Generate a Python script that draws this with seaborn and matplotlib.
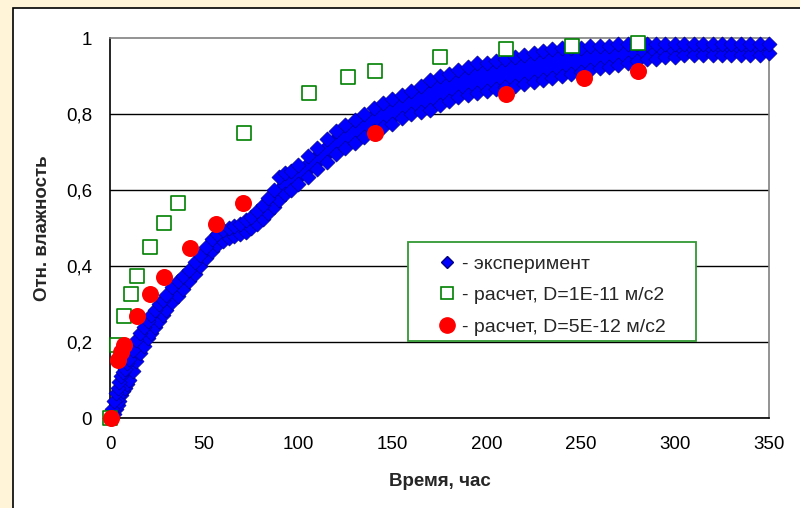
import matplotlib
matplotlib.use("Agg")
import matplotlib.pyplot as plt
import seaborn as sns
import pandas as pd
from matplotlib.lines import Line2D
from matplotlib.patches import Rectangle

# эксперимент: нижняя и верхняя граница полосы точек
exp_time = [0, 1, 2, 3, 4, 5, 6, 7, 8, 9, 10, 12, 14, 16, 18, 20, 22, 24, 26, 28,
            30, 33, 36, 39, 42, 45, 48, 51, 54, 57, 60, 63, 66, 69, 72, 75, 78, 81,
            84, 87, 90, 93, 96, 100, 105, 110, 115, 120, 125, 130, 135, 140, 145,
            150, 155, 160, 165, 170, 175, 180, 185, 190, 195, 200, 205, 210, 215,
            220, 225, 230, 235, 240, 245, 250, 255, 260, 265, 270, 275, 280, 285,
            290, 295, 300, 305, 310, 315, 320, 325, 330, 335, 340, 345, 350]
exp_low = [0.0, 0.0, 0.01, 0.025, 0.035, 0.045, 0.06, 0.07, 0.08, 0.09, 0.10, 0.125,
           0.15, 0.17, 0.19, 0.21, 0.225, 0.24, 0.255, 0.27, 0.285, 0.305, 0.32, 0.34,
           0.36, 0.38, 0.40, 0.42, 0.44, 0.455, 0.465, 0.475, 0.48, 0.485, 0.49, 0.50,
           0.51, 0.525, 0.54, 0.555, 0.575, 0.59, 0.60, 0.615, 0.635, 0.655, 0.675,
           0.695, 0.71, 0.725, 0.74, 0.755, 0.765, 0.775, 0.79, 0.80, 0.805, 0.81,
           0.825, 0.835, 0.845, 0.85, 0.855, 0.86, 0.865, 0.87, 0.875, 0.88, 0.885,
           0.89, 0.895, 0.90, 0.905, 0.91, 0.915, 0.92, 0.925, 0.93, 0.935, 0.94,
           0.945, 0.945, 0.95, 0.95, 0.955, 0.955, 0.955, 0.955, 0.955, 0.955, 0.955,
           0.955, 0.955, 0.96]
exp_high = [0.0, 0.025, 0.045, 0.065, 0.08, 0.095, 0.11, 0.12, 0.13, 0.145, 0.155,
            0.18, 0.205, 0.225, 0.24, 0.255, 0.27, 0.285, 0.30, 0.31, 0.325, 0.345,
            0.36, 0.375, 0.39, 0.41, 0.43, 0.45, 0.47, 0.485, 0.495, 0.50, 0.505, 0.51,
            0.52, 0.53, 0.545, 0.56, 0.58, 0.60, 0.635, 0.645, 0.65, 0.665, 0.69, 0.71,
            0.735, 0.755, 0.77, 0.785, 0.80, 0.815, 0.83, 0.84, 0.85, 0.86, 0.875,
            0.89, 0.90, 0.905, 0.915, 0.925, 0.935, 0.935, 0.94, 0.945, 0.95, 0.955,
            0.96, 0.965, 0.97, 0.975, 0.975, 0.975, 0.98, 0.98, 0.98, 0.985, 0.985,
            0.985, 0.985, 0.985, 0.985, 0.985, 0.985, 0.985, 0.985, 0.985, 0.985,
            0.985, 0.985, 0.985, 0.985, 0.985]

# расчет, D=1E-11 м/с2
calc1_time = [0, 3.5, 7.5, 11, 14.5, 21.5, 28.5, 36, 71, 105.5, 126.5, 140.5,
              175.5, 210.5, 245.5, 280.5]
calc1_val = [0.0, 0.192, 0.268, 0.326, 0.374, 0.449, 0.513, 0.566, 0.75, 0.855,
             0.897, 0.913, 0.951, 0.970, 0.979, 0.987]

# расчет, D=5E-12 м/с2
calc2_time = [0.5, 4.5, 6, 7.5, 14.5, 21.5, 28.5, 42.5, 56.5, 70.5, 140.5, 210.5,
              252, 280.5]
calc2_val = [0.0, 0.152, 0.175, 0.192, 0.269, 0.326, 0.372, 0.448, 0.512, 0.565,
             0.751, 0.854, 0.894, 0.914]

x_ticks = [0, 50, 100, 150, 200, 250, 300, 350]
y_ticks = [0, 0.2, 0.4, 0.6, 0.8, 1.0]
y_tick_labels = ['0', '0,2', '0,4', '0,6', '0,8', '1']

legend_labels = ['- эксперимент', '- расчет, D=1E-11 м/с2', '- расчет, D=5E-12 м/с2']

sns.set_style("white")
plt.rcParams['font.family'] = ['Liberation Sans', 'DejaVu Sans']

fig = plt.figure(figsize=(8, 5.08), dpi=100, facecolor='#FFF4D8')
panel = Rectangle((13 / 800, -0.02), 1.0, 500 / 508 + 0.02, transform=fig.transFigure,
                  facecolor='white', edgecolor='black', lw=1.2, zorder=-5)
fig.patches.append(panel)

ax = fig.add_axes([0.1375, 0.177, 0.82375, 0.748])
ax.set_zorder(1)
ax.set_facecolor('white')

# полоса экспериментальных точек
ax.fill_between(exp_time, exp_low, exp_high, color='#0000FF', lw=0, zorder=2)
band = pd.DataFrame({'t': exp_time + exp_time, 'y': exp_low + exp_high})
sns.scatterplot(data=band, x='t', y='y', marker='D', s=60, color='#0000FF',
                edgecolor='#000080', linewidth=0.4, ax=ax, zorder=3, clip_on=False)

sns.scatterplot(x=calc1_time, y=calc1_val, marker='s', s=90, color='white',
                edgecolor='#008000', linewidth=1.2, ax=ax, zorder=4, clip_on=False)
sns.scatterplot(x=calc2_time, y=calc2_val, marker='o', s=150, color='#FF0000',
                linewidth=0, ax=ax, zorder=5, clip_on=False)

ax.set_xlim(0, 350)
ax.set_ylim(0, 1)
ax.set_xticks(x_ticks)
ax.set_yticks(y_ticks)
ax.set_yticklabels(y_tick_labels)
ax.tick_params(direction='out', length=5, width=1, labelsize=13.5, pad=8,
               colors='black')

ax.grid(True, axis='y', color='black', lw=1)
ax.yaxis.get_gridlines()[-1].set_visible(False)
ax.set_axisbelow(True)

for side in ['left', 'bottom']:
    ax.spines[side].set_color('black')
    ax.spines[side].set_linewidth(1.2)
for side in ['top', 'right']:
    ax.spines[side].set_color('#808080')
    ax.spines[side].set_linewidth(1.2)
    ax.spines[side].set_visible(True)

ax.set_xlabel('Время, час', fontsize=13.5, fontweight='bold', labelpad=14)
ax.set_ylabel('Отн. влажность', fontsize=13.5, fontweight='bold', labelpad=11)

# рамка легенды
ax.add_patch(Rectangle((0.4522, 0.2026), 0.437, 0.2606, transform=ax.transAxes,
                       facecolor='white', edgecolor='#339933', lw=1.3, zorder=9,
                       clip_on=False))

handles = [
    Line2D([], [], marker='D', linestyle='none', color='#0000FF',
           markeredgecolor='#000080', markersize=6),
    Line2D([], [], marker='s', linestyle='none', markerfacecolor='white',
           markeredgecolor='#008000', markeredgewidth=1.2, markersize=9),
    Line2D([], [], marker='o', linestyle='none', color='#FF0000', markersize=11),
]
leg = ax.legend(handles, legend_labels, loc='upper left', bbox_to_anchor=(0.5, 0.429),
                frameon=False, fontsize=14, borderpad=0, labelspacing=0.71,
                handlelength=0.8, handletextpad=0.35, borderaxespad=0)
leg.set_zorder(10)

fig.savefig('out.png', dpi=100, facecolor=fig.get_facecolor())
